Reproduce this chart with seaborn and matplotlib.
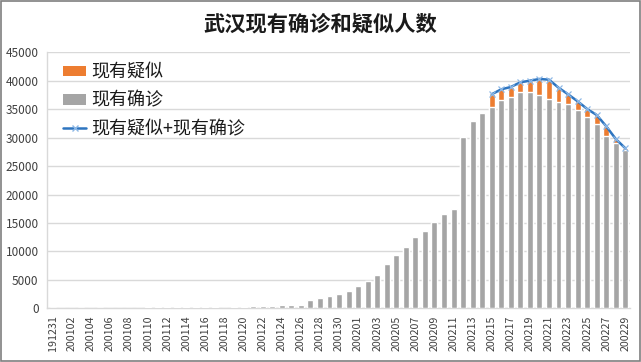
import numpy as np
import pandas as pd
import matplotlib
matplotlib.use("Agg")
import matplotlib.pyplot as plt
from matplotlib.patches import Patch, Rectangle
from matplotlib.lines import Line2D
import seaborn as sns

# ---- data ----
dates = ["191231"] + [f"2001{d:02d}" for d in range(1, 32)] + [f"2002{d:02d}" for d in range(1, 30)]

confirmed = [0, 0, 0, 0, 0, 0, 0, 0, 0, 0,
             170, 170, 170, 170, 170, 170, 170, 170, 0, 220,
             280, 340, 420, 460, 540, 580, 660, 1500, 1800, 2100,
             2500, 2980,
             3850, 4720, 5870, 7740, 9370, 10770, 12520, 13630, 15260, 16660,
             17480, 30100, 33000, 34400, 35450, 36560, 37200, 38080, 38080, 37550,
             36850, 36270, 35860, 34920, 33680, 32450, 30290, 29010, 27830]

suspected = [190, 0, 0, 200, 0, 210, 0, 0, 0, 0,
             0, 0, 0, 0, 0, 0, 0, 0, 0, 0,
             0, 0, 0, 0, 0, 0, 0, 0, 0, 0,
             0, 0,
             0, 0, 0, 0, 0, 0, 0, 0, 0, 0,
             0, 0, 0, 0, 2170, 1940, 1700, 1650, 1930, 2760,
             3340, 2510, 1760, 1470, 1360, 1530, 1700, 750, 300]

line_start = "200215"

title = "武汉现有确诊和疑似人数"
lab_susp = "现有疑似"
lab_conf = "现有确诊"
lab_sum = "现有疑似+现有确诊"

# ---- build ----
conf = np.array(confirmed, dtype=float)
susp = np.array(suspected, dtype=float)
total = conf + susp
start = dates.index(line_start)
line_vals = np.where(np.arange(len(dates)) >= start, total, np.nan)

df = pd.DataFrame({"date": dates, "confirmed": conf, "total": total})

sns.set_theme(style="white")
plt.rcParams["font.family"] = ["Noto Sans CJK SC", "DejaVu Sans"]

fig = plt.figure(figsize=(6.41, 3.62), dpi=100)
ax = fig.add_axes([0.0733, 0.1483, 0.9097, 0.7072])

ORANGE = "#ED7D31"
GRAY = "#A5A5A5"
BLUE = "#2E75C0"

sns.barplot(data=df, x="date", y="total", order=dates, color=ORANGE,
            saturation=1, width=0.62, errorbar=None, ax=ax, zorder=2)
sns.barplot(data=df, x="date", y="confirmed", order=dates, color=GRAY,
            saturation=1, width=0.62, errorbar=None, ax=ax, zorder=3)
ax.plot(np.arange(len(dates)), line_vals, color=BLUE, lw=1.8, zorder=4,
        marker="x", markersize=4, markeredgecolor="#8DB8E6", markeredgewidth=0.9)

ax.set_ylim(0, 45000)
ax.set_yticks(np.arange(0, 45001, 5000))
ax.set_xlim(-0.6, 60.5)
ax.set_xticks(np.arange(0, len(dates), 2))
ax.set_xticklabels(dates[::2], rotation=90)
ax.set_xlabel("")
ax.set_ylabel("")
ax.tick_params(axis="both", length=0, colors="#595959")
ax.tick_params(axis="y", labelsize=8.5, pad=6)
ax.tick_params(axis="x", labelsize=7.7, pad=5)
for t in ax.get_xticklabels() + ax.get_yticklabels():
    t.set_color("#404040")

ax.grid(axis="y", color="#D9D9D9", lw=1, zorder=0)
ax.set_axisbelow(True)
for s in ["top", "right"]:
    ax.spines[s].set_visible(False)
for s in ["left", "bottom"]:
    ax.spines[s].set_color("#D9D9D9")
    ax.spines[s].set_linewidth(1)

fig.suptitle(title, x=0.5, y=0.962, fontsize=15.3, fontweight="bold", color="#1a1a1a")

handles = [Patch(facecolor=ORANGE, edgecolor="none"),
           Patch(facecolor=GRAY, edgecolor="none"),
           Line2D([], [], color=BLUE, lw=1.8, marker="x", markersize=4,
                  markeredgecolor="#8DB8E6")]
leg = ax.legend(handles, [lab_susp, lab_conf, lab_sum], loc="upper left",
                bbox_to_anchor=(0.015, 0.985), frameon=False, fontsize=13,
                handlelength=1.3, handleheight=0.55, handletextpad=0.25,
                labelspacing=0.58, borderaxespad=0)
for t in leg.get_texts():
    t.set_color("#1a1a1a")

fig.patches.append(Rectangle((0.001, 0.002), 0.997, 0.995, transform=fig.transFigure,
                             fill=False, edgecolor="#7F7F7F", lw=1.2))

fig.savefig("out.png", dpi=100)
